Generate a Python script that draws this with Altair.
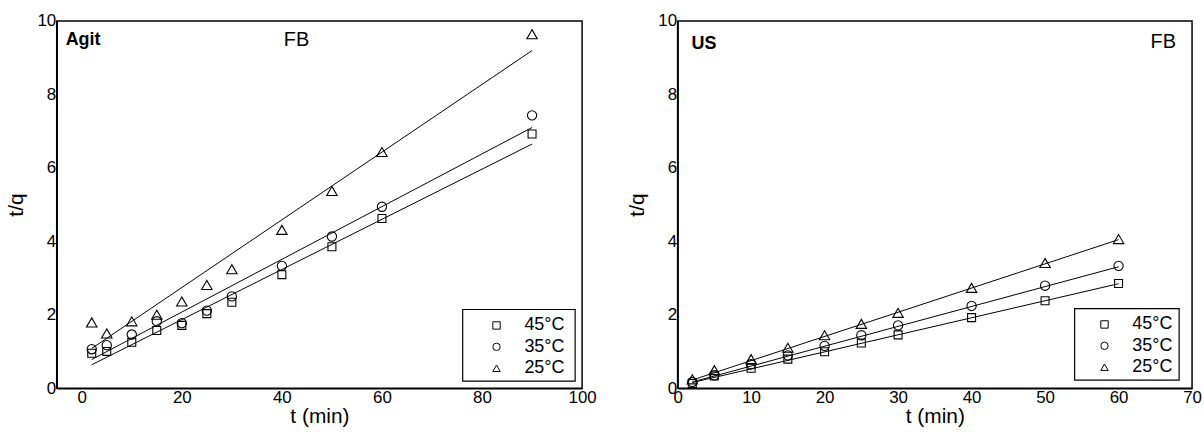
import altair as alt
import pandas as pd

# Temperature series and the open marker used for each
temps = ["45°C", "35°C", "25°C"]
shapes = ["square", "circle", "triangle-up"]
marker_sizes = [64, 110, 130]

# Agitation (Agit) kinetics, t/q against t (min)
t_agit = [2, 5, 10, 15, 20, 25, 30, 40, 50, 60, 90]
agit_45 = [0.95, 1.00, 1.25, 1.57, 1.71, 2.03, 2.34, 3.09, 3.85, 4.62, 6.92]
agit_35 = [1.06, 1.17, 1.46, 1.82, 1.77, 2.11, 2.50, 3.33, 4.13, 4.94, 7.43]
agit_25 = [1.79, 1.49, 1.82, 2.00, 2.36, 2.81, 3.24, 4.31, 5.37, 6.43, 9.64]
agit_slope = [0.0683, 0.0718, 0.0922]
agit_icept = [0.50, 0.636, 0.896]
agit_trange = [2, 90]

# Ultrasound (US) kinetics
t_us = [2, 5, 10, 15, 20, 25, 30, 40, 50, 60]
us_45 = [0.13, 0.33, 0.54, 0.79, 0.99, 1.23, 1.45, 1.92, 2.38, 2.85]
us_35 = [0.17, 0.35, 0.65, 0.89, 1.15, 1.44, 1.71, 2.24, 2.79, 3.33]
us_25 = [0.24, 0.49, 0.79, 1.10, 1.44, 1.75, 2.05, 2.73, 3.41, 4.06]
us_slope = [0.0464, 0.0541, 0.0659]
us_icept = [0.06, 0.06, 0.09]
us_trange = [2, 60]

FONT = "Liberation Sans"


def legend_layers(box):
    """Boxed key: symbol column and label column stacked by temperature."""
    lx, ly, lw, lh, sym_dx, lab_dx = box
    key = pd.DataFrame({"temp": temps})
    row_y = alt.Y("temp:N", axis=None,
                  scale=alt.Scale(domain=temps, range=[ly + 16, ly + 59], padding=0))
    frame = alt.Chart(pd.DataFrame({"k": [0]})).mark_rect(
        fill="white", stroke="black", strokeWidth=1.2
    ).encode(x=alt.value(lx), x2=alt.value(lx + lw),
             y=alt.value(ly), y2=alt.value(ly + lh))
    syms = alt.Chart(key).mark_point(
        filled=False, color="black", strokeWidth=1, opacity=1, size=55
    ).encode(
        x=alt.value(lx + sym_dx), y=row_y,
        shape=alt.Shape("temp:N", scale=alt.Scale(domain=temps, range=shapes),
                        legend=None),
    )
    labels = alt.Chart(key).mark_text(
        font=FONT, fontSize=18, align="left", baseline="middle", color="black"
    ).encode(x=alt.value(lx + lab_dx), y=row_y, text="temp:N")
    return frame, alt.layer(syms, labels)


def panel(t, series, slopes, icepts, trange, xdom, xvals, width,
          method, box, method_pos, fb_pos):
    pts = pd.DataFrame(
        [{"t": tt, "tq": v, "temp": temp}
         for temp, vals in zip(temps, series) for tt, v in zip(t, vals)]
    )
    fit = pd.DataFrame(
        [{"t": tt, "tq": b + m * tt, "temp": temp}
         for temp, m, b in zip(temps, slopes, icepts) for tt in trange]
    )
    x = alt.X("t:Q", scale=alt.Scale(domain=xdom, nice=False, zero=False),
              axis=alt.Axis(values=xvals, title="t (min)", labelFlush=False))
    y = alt.Y("tq:Q", scale=alt.Scale(domain=[0, 10], nice=False),
              axis=alt.Axis(values=[0, 2, 4, 6, 8, 10], title="t/q"))

    lines = alt.Chart(fit).mark_line(color="black", strokeWidth=1).encode(
        x=x, y=y, detail="temp:N"
    )
    points = alt.Chart(pts).mark_point(
        filled=False, color="black", strokeWidth=1.1, opacity=1
    ).encode(
        x=x, y=y,
        shape=alt.Shape("temp:N", scale=alt.Scale(domain=temps, range=shapes),
                        legend=None),
        size=alt.Size("temp:N", scale=alt.Scale(domain=temps, range=marker_sizes),
                      legend=None),
    )
    one = pd.DataFrame({"k": [0]})
    method_txt = alt.Chart(one).mark_text(
        text=method, font=FONT, fontSize=18, fontWeight="bold",
        align="left", baseline="middle", color="black"
    ).encode(x=alt.value(method_pos[0]), y=alt.value(method_pos[1]))
    fb_txt = alt.Chart(one).mark_text(
        text="FB", font=FONT, fontSize=20, align="center",
        baseline="middle", color="black"
    ).encode(x=alt.value(fb_pos[0]), y=alt.value(fb_pos[1]))

    frame, key = legend_layers(box)
    data_layer = alt.layer(lines, points)
    return alt.layer(
        data_layer, method_txt, fb_txt, frame, key
    ).resolve_scale(y="independent").properties(width=width, height=369)


left = panel(t_agit, [agit_45, agit_35, agit_25], agit_slope, agit_icept,
             agit_trange, [-5, 100], [0, 20, 40, 60, 80, 100], 528,
             "Agit", (408, 290, 113, 72, 34, 62), (9, 19), (241, 19))
right = panel(t_us, [us_45, us_35, us_25], us_slope, us_icept,
              us_trange, [0, 70], [0, 10, 20, 30, 40, 50, 60, 70], 517,
              "US", (399, 289, 105, 72, 30, 58), (14, 23), (488, 21))

chart = alt.hconcat(left, right, bounds="flush", spacing=96).resolve_scale(
    shape="independent", size="independent"
).properties(
    padding={"left": 5, "top": 10, "right": 0, "bottom": 0}
).configure_view(
    stroke="black", strokeWidth=1.5
).configure_axis(
    labelFont=FONT, labelFontSize=17, labelColor="black",
    titleFont=FONT, titleFontSize=21, titleFontWeight="normal", titleColor="black",
    domainColor="black", domainWidth=1.5, ticks=False, grid=False, labelPadding=1,
).configure_axisX(titlePadding=1).configure_axisY(titlePadding=10)

chart.save("out.html", embed_options={"renderer": "svg", "actions": False})
